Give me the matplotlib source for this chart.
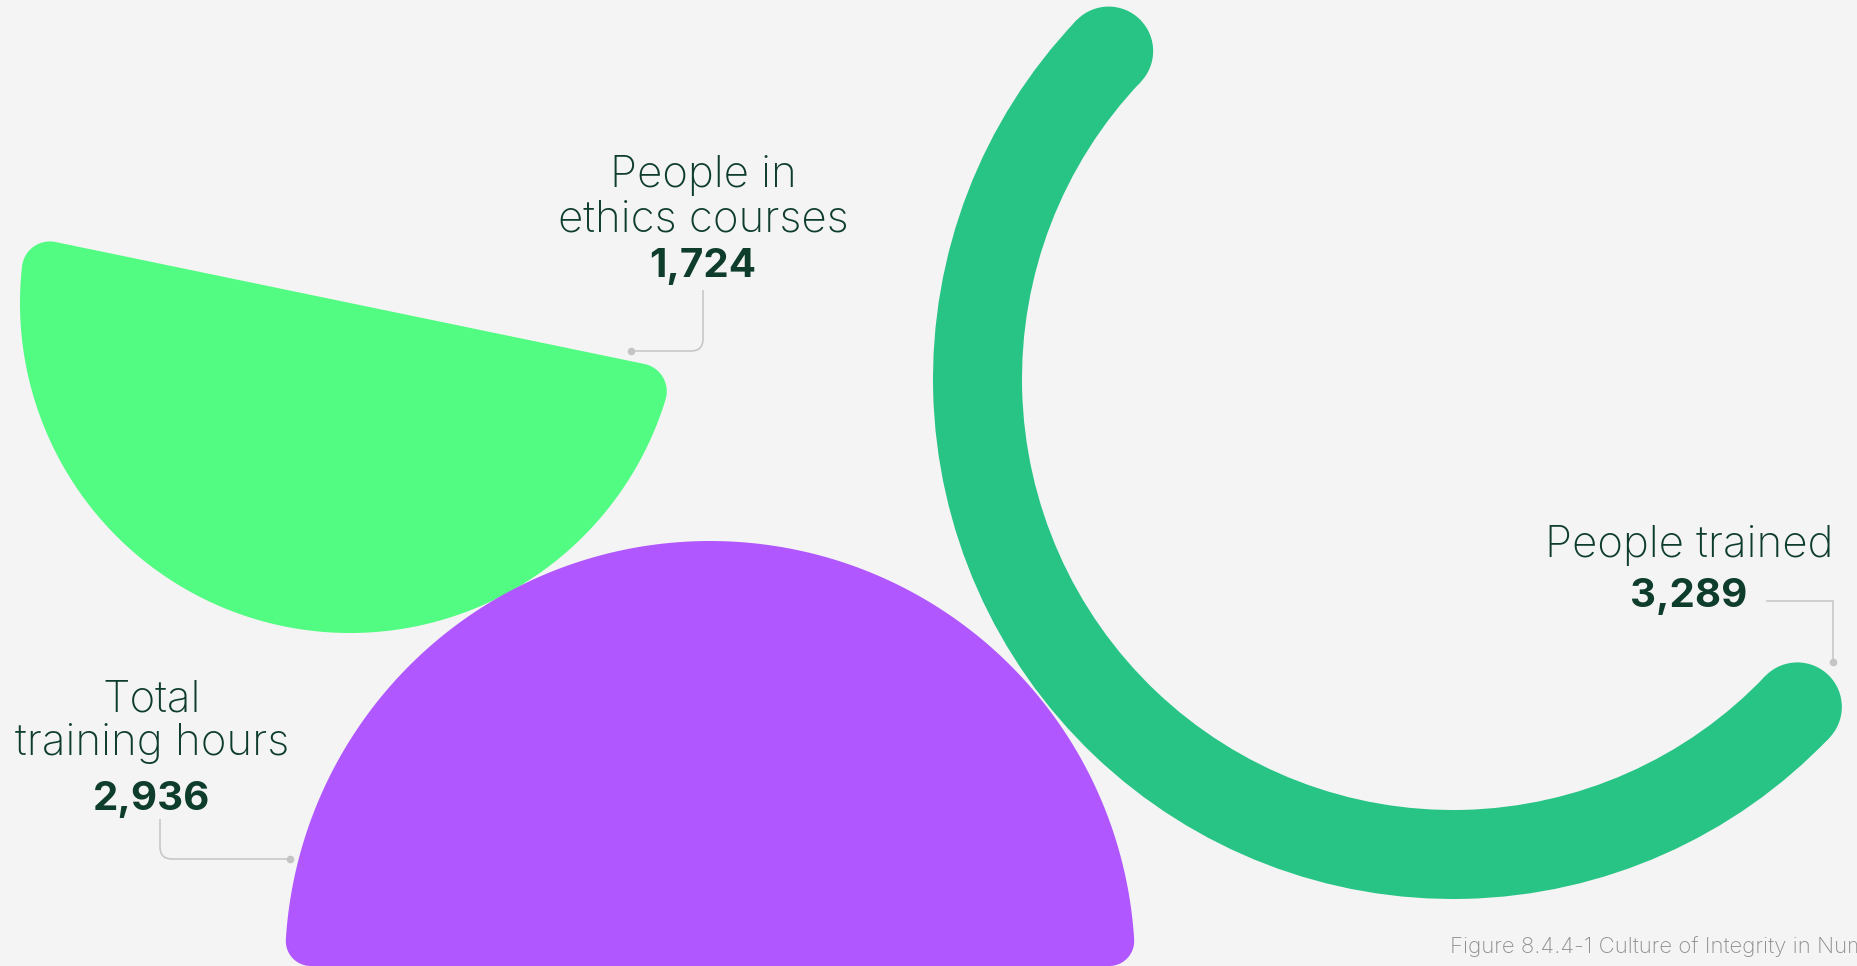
"""Culture of Integrity in Numbers - three half-disc shapes with callouts."""

import numpy as np
import matplotlib
matplotlib.use("Agg")
import matplotlib.pyplot as plt
from matplotlib.patches import Polygon, Wedge, Circle, PathPatch
from matplotlib.path import Path

# data
labels = ["People in\nethics courses", "Total\ntraining hours", "People trained"]
values = [1724, 2936, 3289]
caption = "Figure 8.4.4-1 Culture of Integrity in Numbers"

BG = "#f4f4f4"
LIGHT = "#52fb81"
PURPLE = "#b057ff"
RING = "#27c485"
INK = "#0e3d2c"
LEAD = "#c4c4c4"
W, H = 1858, 966

plt.rcParams["font.family"] = ["Inter", "DejaVu Sans"]


def rounded_half_disc(cx, cy, R, a1, rc, n=200):
    """vertices of a 180-degree sector starting at angle a1 with rounded corners"""
    a2 = a1 + 180.0
    d = np.degrees(np.arcsin(rc / (R - rc)))
    pts = []
    # corner at a1 end
    c1 = np.array([cx, cy]) + (R - rc) * np.array([np.cos(np.radians(a1 + d)), np.sin(np.radians(a1 + d))])
    for a in np.linspace(a1 - 90, a1 + d, 20):
        pts.append(c1 + rc * np.array([np.cos(np.radians(a)), np.sin(np.radians(a))]))
    for a in np.linspace(a1 + d, a2 - d, n):
        pts.append([cx + R * np.cos(np.radians(a)), cy + R * np.sin(np.radians(a))])
    c2 = np.array([cx, cy]) + (R - rc) * np.array([np.cos(np.radians(a2 - d)), np.sin(np.radians(a2 - d))])
    for a in np.linspace(a2 - d, a2 + 90, 20):
        pts.append(c2 + rc * np.array([np.cos(np.radians(a)), np.sin(np.radians(a))]))
    return np.array(pts)


def leader(ax, pts, dot):
    # polyline whose single corner is rounded with a quadratic curve
    (x0, y0), (xc, yc), (x1, y1) = pts
    r = 12
    v0 = np.array([x0 - xc, y0 - yc], float); v0 /= np.hypot(*v0)
    v1 = np.array([x1 - xc, y1 - yc], float); v1 /= np.hypot(*v1)
    p_a = (xc + v0[0] * r, yc + v0[1] * r)
    p_b = (xc + v1[0] * r, yc + v1[1] * r)
    path = Path([(x0, y0), p_a, (xc, yc), p_b, (x1, y1)],
                [Path.MOVETO, Path.LINETO, Path.CURVE3, Path.CURVE3, Path.LINETO])
    ax.add_patch(PathPatch(path, fill=False, edgecolor=LEAD, lw=1.1, zorder=5))
    ax.plot(*dot, "o", color=LEAD, ms=4.5, zorder=5)


fig = plt.figure(figsize=(W / 100, H / 100), dpi=100, facecolor=BG)
ax = fig.add_axes([0, 0, 1, 1])
ax.set_xlim(0, W); ax.set_ylim(0, H)
ax.set_aspect("equal"); ax.axis("off")
ax.set_facecolor(BG)

# light green half disc (ethics courses)
ax.add_patch(Polygon(rounded_half_disc(350, 663, 330, 168.3, 28), closed=True,
                     facecolor=LIGHT, edgecolor="none", zorder=1))
# dark green ring (people trained)
r_out, ring_w, th1 = 520, 89, 136.4
cx, cy = 1453, 587
ax.add_patch(Wedge((cx, cy), r_out, th1, th1 + 180, width=ring_w,
                   facecolor=RING, edgecolor="none", zorder=2))
rm = r_out - ring_w / 2
for a in (th1, th1 + 180):
    ax.add_patch(Circle((cx + rm * np.cos(np.radians(a)), cy + rm * np.sin(np.radians(a))),
                        ring_w / 2, facecolor=RING, edgecolor="none", zorder=2))
# purple half disc (training hours)
ax.add_patch(Polygon(rounded_half_disc(710, 0, 425, 0, 25), closed=True,
                     facecolor=PURPLE, edgecolor="none", zorder=3))

# callouts: label line baselines, value baseline
anchors = [(703, [779, 735], 689), (152, [254, 211], 156), (1689, [409], 359)]
for lab, val, (x, ys, yv) in zip(labels, values, anchors):
    for line, y in zip(lab.split("\n"), ys):
        ax.text(x, y, line, ha="center", va="baseline", fontsize=31.5,
                fontweight="light", color=INK, zorder=6)
    ax.text(x, yv, f"{val:,}", ha="center", va="baseline", fontsize=29,
            fontweight="bold", color=INK, zorder=6)

leader(ax, [(703, 676), (703, 615), (631, 615)], (631, 615))
leader(ax, [(160, 147), (160, 107), (290, 107)], (290, 107))
ax.plot([1767, 1833, 1833], [365, 365, 304], color=LEAD, lw=1.1, zorder=5)
ax.plot(1833, 304, "o", color=LEAD, ms=4.5, zorder=5)

ax.text(1450, 13, caption, ha="left", va="baseline", fontsize=16,
        fontweight="light", color="#8f8f8f", clip_on=False)

fig.savefig("out.png", dpi=100, facecolor=BG)
